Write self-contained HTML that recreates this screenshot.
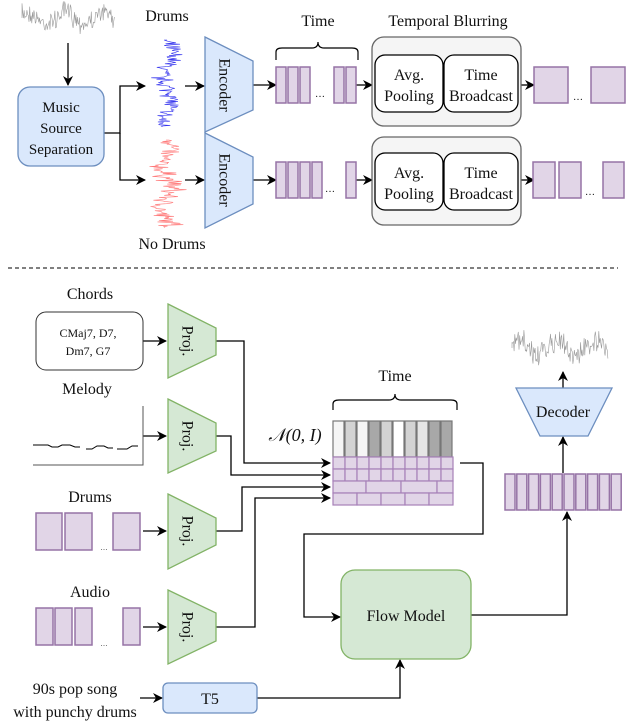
<!DOCTYPE html>
<html><head><meta charset="utf-8"><style>
html,body{margin:0;padding:0;background:#fff}
svg{display:block;font-family:"Liberation Serif","Times New Roman",Times,serif}
svg text{font-family:"Liberation Serif","Times New Roman",Times,serif;fill:#111}
</style></head><body>
<svg id="s" width="626" height="722" viewBox="0 0 626 722" xmlns="http://www.w3.org/2000/svg" font-family="Liberation Serif, Times New Roman, serif">
<defs>
<marker id="a" markerWidth="10" markerHeight="10" refX="9" refY="5" orient="auto" markerUnits="userSpaceOnUse">
<path d="M0,0 L10,5 L0,10 L3,5 Z" fill="#000"/></marker>
</defs>
<g id="waves"></g>
<g fill="none" stroke="#000" stroke-width="1.3">
<line x1="68" y1="43" x2="68" y2="85" marker-end="url(#a)"/>
<path d="M104,133 H120 V86 H145" marker-end="url(#a)"/>
<path d="M120,133 V180 H145" marker-end="url(#a)"/>
<line x1="185" y1="86" x2="204" y2="86" marker-end="url(#a)"/>
<line x1="185" y1="180" x2="204" y2="180" marker-end="url(#a)"/>
<line x1="253" y1="85" x2="276" y2="85" marker-end="url(#a)"/>
<line x1="253" y1="180" x2="276" y2="180" marker-end="url(#a)"/>
<line x1="356" y1="85" x2="372" y2="85" marker-end="url(#a)"/>
<line x1="356" y1="180" x2="372" y2="180" marker-end="url(#a)"/>
<line x1="521" y1="85" x2="534" y2="85" marker-end="url(#a)"/>
<line x1="521" y1="180" x2="534" y2="180" marker-end="url(#a)"/>
<path d="M276,60 V52 Q276,48 282,48 H312 Q318,48 318,42 Q318,48 324,48 H352 Q358,48 358,52 V60" stroke-width="1.2"/>
<path d="M333,410 V404 Q333,400 339,400 H389 Q395,400 395,394 Q395,400 401,400 H451 Q457,400 457,404 V410" stroke-width="1.2"/>
<line x1="143" y1="341" x2="166" y2="341" marker-end="url(#a)"/>
<line x1="143" y1="436" x2="166" y2="436" marker-end="url(#a)"/>
<line x1="143" y1="531" x2="166" y2="531" marker-end="url(#a)"/>
<line x1="143" y1="627" x2="166" y2="627" marker-end="url(#a)"/>
<line x1="140" y1="698" x2="162" y2="698" marker-end="url(#a)"/>
<path d="M216,341 H244 V463 H330" marker-end="url(#a)"/>
<path d="M216,436 H231 V475 H330" marker-end="url(#a)"/>
<path d="M216,531 H242 V487 H330" marker-end="url(#a)"/>
<path d="M216,627 H255 V498 H330" marker-end="url(#a)"/>
<path d="M460,463 H483 V534 H304 V617 H340" marker-end="url(#a)"/>
<path d="M257,698 H400 V660" marker-end="url(#a)"/>
<path d="M471,615 H567 V512" marker-end="url(#a)"/>
<line x1="563" y1="473" x2="563" y2="437" marker-end="url(#a)"/>
<line x1="563" y1="388" x2="563" y2="372" marker-end="url(#a)"/>
<line x1="8" y1="268" x2="618" y2="268" stroke-dasharray="4,3" stroke-width="1"/>
<path d="M143,406 V465 H33" stroke="#555" stroke-width="1"/>
<path d="M33,445 H48 L52,447 H58 L62,445 H70 L75,447 H80 M86,449 H92 L97,446 H104 L108,448 H113 M117,449 H127 L132,446 H138" stroke="#000" stroke-width="1"/>
</g>
<rect x="18" y="87" width="86" height="79" rx="12" fill="#dae8fc" stroke="#6c8ebf" stroke-width="1.3"/>
<polygon points="205,37 253,61 253,110 205,132" fill="#dae8fc" stroke="#6c8ebf" stroke-width="1.3"/>
<polygon points="205,133 253,157 253,204 205,228" fill="#dae8fc" stroke="#6c8ebf" stroke-width="1.3"/>
<g fill="#e1d5e7" stroke="#9673a6" stroke-width="1.5">
<rect x="276" y="67" width="10" height="36"/><rect x="288" y="67" width="10" height="36"/><rect x="300" y="67" width="10" height="36"/>
<rect x="334" y="67" width="10" height="36"/><rect x="346" y="67" width="10" height="36"/>
<rect x="276" y="162" width="10" height="36"/><rect x="288" y="162" width="10" height="36"/><rect x="300" y="162" width="10" height="36"/><rect x="312" y="162" width="10" height="36"/>
<rect x="346" y="162" width="10" height="36"/>
<rect x="534" y="67" width="34" height="36"/><rect x="591" y="67" width="34" height="36"/>
<rect x="533" y="162" width="22" height="36"/><rect x="559" y="162" width="22" height="36"/><rect x="603" y="162" width="21" height="36"/>
<rect x="36" y="513" width="26" height="37"/><rect x="65" y="513" width="27" height="37"/><rect x="113" y="513" width="27" height="37"/>
<rect x="36" y="608" width="17" height="37"/><rect x="55" y="608" width="17" height="37"/><rect x="75" y="608" width="17" height="37"/><rect x="123" y="608" width="17" height="37"/>
</g>
<rect x="372" y="37" width="149" height="89" rx="12" fill="#f5f5f5" stroke="#666" stroke-width="1.3"/>
<rect x="372" y="137" width="149" height="88" rx="12" fill="#f5f5f5" stroke="#666" stroke-width="1.3"/>
<g fill="#fff" stroke="#000" stroke-width="1.3">
<rect x="375" y="55" width="68" height="57" rx="10"/><rect x="444" y="55" width="74" height="57" rx="10"/>
<rect x="375" y="153" width="68" height="57" rx="10"/><rect x="444" y="153" width="74" height="57" rx="10"/>
</g>
<rect x="36" y="312" width="107" height="58" rx="10" fill="#fff" stroke="#333" stroke-width="1"/>
<g fill="#d5e8d4" stroke="#82b366" stroke-width="1.3">
<polygon points="168,304 216,328 216,355 168,378"/>
<polygon points="168,399 216,423 216,451 168,473"/>
<polygon points="168,494 216,518 216,545 168,569"/>
<polygon points="168,590 216,613 216,641 168,664"/>
</g>
<rect x="163" y="683" width="94" height="30" rx="5" fill="#dae8fc" stroke="#6c8ebf" stroke-width="1.3"/>
<rect x="341" y="570" width="130" height="89" rx="14" fill="#d5e8d4" stroke="#82b366" stroke-width="1.3"/>
<polygon points="516,388 612,388 588,436 540,436" fill="#dae8fc" stroke="#6c8ebf" stroke-width="1.3"/>
<g id="grid"></g>
<g id="outb" fill="#e1d5e7" stroke="#9673a6" stroke-width="1.5"></g>
<g font-size="16" text-anchor="middle" fill="#111">
<text x="61" y="112" font-size="15">Music</text>
<text x="61" y="133" font-size="15">Source</text>
<text x="61" y="154" font-size="15">Separation</text>
<text transform="translate(223,85) rotate(90)" dominant-baseline="middle">Encoder</text>
<text transform="translate(223,180) rotate(90)" dominant-baseline="middle">Encoder</text>
<text x="409" y="80">Avg.</text><text x="409" y="101">Pooling</text>
<text x="481" y="80">Time</text><text x="481" y="101">Broadcast</text>
<text x="409" y="178">Avg.</text><text x="409" y="199">Pooling</text>
<text x="481" y="178">Time</text><text x="481" y="199">Broadcast</text>
<text x="318" y="26">Time</text>
<text x="448" y="26">Temporal Blurring</text>
<text x="167" y="21">Drums</text>
<text x="172" y="249">No Drums</text>
<text x="90" y="299">Chords</text>
<text x="87" y="394">Melody</text>
<text x="90" y="502">Drums</text>
<text x="90" y="597">Audio</text>
<text x="395" y="381">Time</text>
<text x="75" y="694">90s pop song</text>
<text x="75" y="717">with punchy drums</text>
<text x="210" y="704">T5</text>
<text x="406" y="621">Flow Model</text>
<text x="563" y="417">Decoder</text>
<text x="295" y="441" font-style="italic" font-size="18">𝒩(0, I)</text>
<text x="88" y="337" font-size="12">CMaj7, D7,</text>
<text x="88" y="355" font-size="12">Dm7, G7</text>
<text transform="translate(186,341) rotate(90)" dominant-baseline="middle">Proj.</text>
<text transform="translate(186,436) rotate(90)" dominant-baseline="middle">Proj.</text>
<text transform="translate(186,531) rotate(90)" dominant-baseline="middle">Proj.</text>
<text transform="translate(186,627) rotate(90)" dominant-baseline="middle">Proj.</text>
</g>
<g font-size="10" text-anchor="middle">
<text x="320" y="97">…</text><text x="330" y="192">…</text><text x="578" y="100">…</text><text x="590" y="195">…</text>
<text x="104" y="550" font-size="7">…</text><text x="104" y="646" font-size="7">…</text>
</g>
</svg>
<script>
var NS="http://www.w3.org/2000/svg";
function el(p,t,a){var e=document.createElementNS(NS,t);for(var k in a)e.setAttribute(k,a[k]);p.appendChild(e);return e;}
var seed=7;function r(){seed=(seed*16807)%2147483647;return seed/2147483647;}
var W=document.getElementById('waves');
function hwave(x0,x1,yc,amp,col){var d="M"+x0+","+yc;for(var x=x0;x<=x1;x+=0.7){d+=" L"+x.toFixed(1)+","+(yc+(r()-0.5)*amp*(0.4+r())+Math.sin(x/6)*amp*0.3).toFixed(1);}el(W,'path',{d:d,fill:'none',stroke:col,'stroke-width':0.6});}
function vwave(y0,y1,xc,amp,col){var d="M"+xc+","+y0;for(var y=y0;y<=y1;y+=0.7){d+=" L"+(xc+(r()-0.5)*amp*(0.3+r())+Math.sin(y/7)*amp*0.25).toFixed(1)+","+y.toFixed(1);}el(W,'path',{d:d,fill:'none',stroke:col,'stroke-width':0.6});}
hwave(22,115,18,18,'#999');
vwave(40,127,167,22,'#3333ee');
vwave(140,228,166,26,'#ff7777');
hwave(512,608,348,22,'#999');
var G=document.getElementById('grid');
var gc=['#f5f5f5','#d3d3d3','#f5f5f5','#a8a8a8','#d3d3d3','#fff','#d3d3d3','#e5e5e5','#a8a8a8','#a8a8a8'];
for(var i=0;i<10;i++){el(G,'rect',{x:333+i*12,y:421,width:11,height:36,fill:gc[i],stroke:'#777','stroke-width':1.2});}
var P={fill:'#e1d5e7',stroke:'#a680b8','stroke-width':1.2};
function pr(x,y,w,h){var a={x:x,y:y,width:w,height:h};for(var k in P)a[k]=P[k];el(G,'rect',a);}
for(var i=0;i<10;i++){pr(333+i*12,457,12,12);pr(333+i*12,469,12,12);}
pr(333,481,33,12);pr(366,481,35,12);pr(401,481,36,12);pr(437,481,16,12);
pr(333,493,24,12);pr(357,493,24,12);pr(381,493,24,12);pr(405,493,24,12);pr(429,493,24,12);
var O=document.getElementById('outb');
for(var i=0;i<10;i++){el(O,'rect',{x:505+i*11.8,y:474,width:10,height:36});}
</script>
</body></html>
